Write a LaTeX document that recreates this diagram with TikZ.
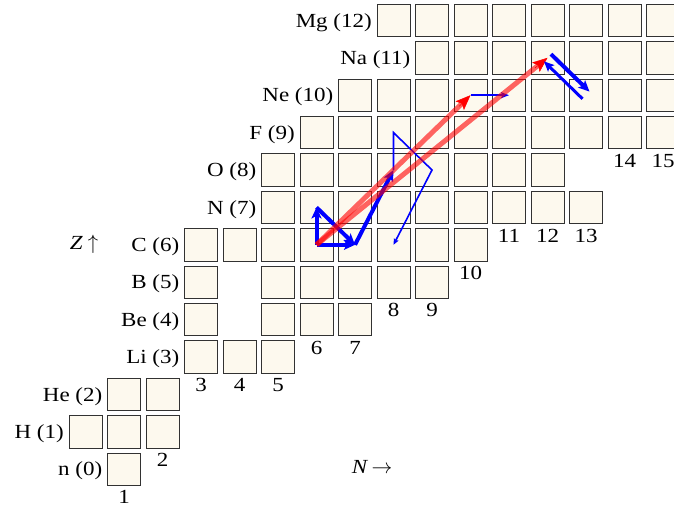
\documentclass[tikz,border=0pt]{standalone}
\usepackage{fontspec}
\setmainfont[FakeStretch=1.15]{Liberation Serif}
\usetikzlibrary{arrows.meta,calc}
\definecolor{boxfill}{RGB}{253,249,238}
\definecolor{boxline}{RGB}{50,50,50}
\begin{document}
\begin{tikzpicture}[x=1pt,y=-1pt,
  nuc/.style={draw=boxline, fill=boxfill, line width=1pt, minimum width=33pt, minimum height=32.4pt, inner sep=0pt},
  elab/.style={font=\fontsize{20}{24}\selectfont, inner sep=0pt, anchor=base east},
  nlab/.style={font=\fontsize{20}{24}\selectfont, inner sep=0pt, anchor=north},
  axlab/.style={font=\fontsize{20}{24}\selectfont, inner sep=0pt},
  thickb/.style={blue, line width=4pt, -{Stealth[length=11pt,width=10pt,inset=2.5pt]}},
  thinb/.style={blue, line width=1.6pt, -{Stealth[length=6pt,width=5pt,inset=1pt]}},
  midb/.style={blue, line width=2pt, -{Stealth[length=8pt,width=6pt,inset=1.5pt]}},
  urcab/.style={blue, line width=3pt, -{Stealth[length=10pt,width=9pt,inset=2pt]}},
  redshaft/.style={red, line width=5pt, draw opacity=0.6, shorten >=9pt},
  redtip/.style={red, line width=0.5pt, -{Stealth[length=15pt,width=12pt,inset=3pt]}}
]
\clip (0,0) rectangle (674,509);

% boxes and element labels
\foreach \z/\first/\ns/\el in {0/1/{1}/n,1/0/{0,1,2}/H,2/1/{1,2}/He,3/3/{3,4,5}/Li,4/3/{3,5,6,7}/Be,5/3/{3,5,6,7,8,9}/B,6/3/{3,...,10}/C,7/5/{5,...,13}/N,8/5/{5,...,12}/O,9/6/{6,...,15}/F,10/7/{7,...,15}/Ne,11/9/{9,...,15}/Na,12/8/{8,...,15}/Mg}{
  \foreach \n in \ns {
    \node[nuc] (b-\n-\z) at ({85.5+38.5*\n},{469.2-37.4*\z}) {};
  }
  \node[elab] (lab-\z) at ([xshift=-4.5pt,yshift=-6.7pt]b-\first-\z.west) {\el\ (\z)};
}

% column labels
\foreach \n/\z in {1/0,2/1,3/3,4/3,5/3,6/4,7/4,8/5,9/5,10/6,11/7,12/7,13/7,14/9,15/9}
  \node[nlab] (col-\n) at ([yshift=-4.5pt]b-\n-\z.south) {\n};

% axis labels
\node[axlab] (zlab) at (84,244.8) {\textit{Z}\hspace{5pt}$\uparrow$};
\node[axlab] (nlab) at (372,467) {\textit{N}\,$\rightarrow$};

% CNO-type thick arrows
\draw[thickb] (b-6-6.center) -- (b-6-7.center);
\draw[thickb] (b-6-7.center) -- (b-7-6.center);
\draw[thickb] (b-6-6.center) -- (b-7-6.center);
\draw[thickb] (b-7-6.center) -- (b-8-8.center);

% thin path
\draw[thinb] (b-8-8.center) -- (b-8-9.center) -- (b-9-8.center) -- (b-8-6.center);

% Ne20 -> Ne21
\draw[midb] (b-10-10.center) -- (b-11-10.center);

% red arrows
\draw[redshaft] (b-6-6.center) -- (b-10-10.center);
\draw[redshaft] (b-6-6.center) -- (b-12-11.center);
\draw[redtip] ($(b-10-10.center)!16pt!(b-6-6.center)$) -- (b-10-10.center);
\draw[redtip] ($(b-12-11.center)!16pt!(b-6-6.center)$) -- (b-12-11.center);

% Na23 <-> Ne23
\draw[thickb] ([shift={(3.5,-3.6)}]b-12-11.center) -- ([shift={(3.5,-3.6)}]b-13-10.center);
\draw[urcab] ([shift={(-3.5,3.6)}]b-13-10.center) -- ([shift={(-3.5,3.6)}]b-12-11.center);
\end{tikzpicture}
\end{document}
